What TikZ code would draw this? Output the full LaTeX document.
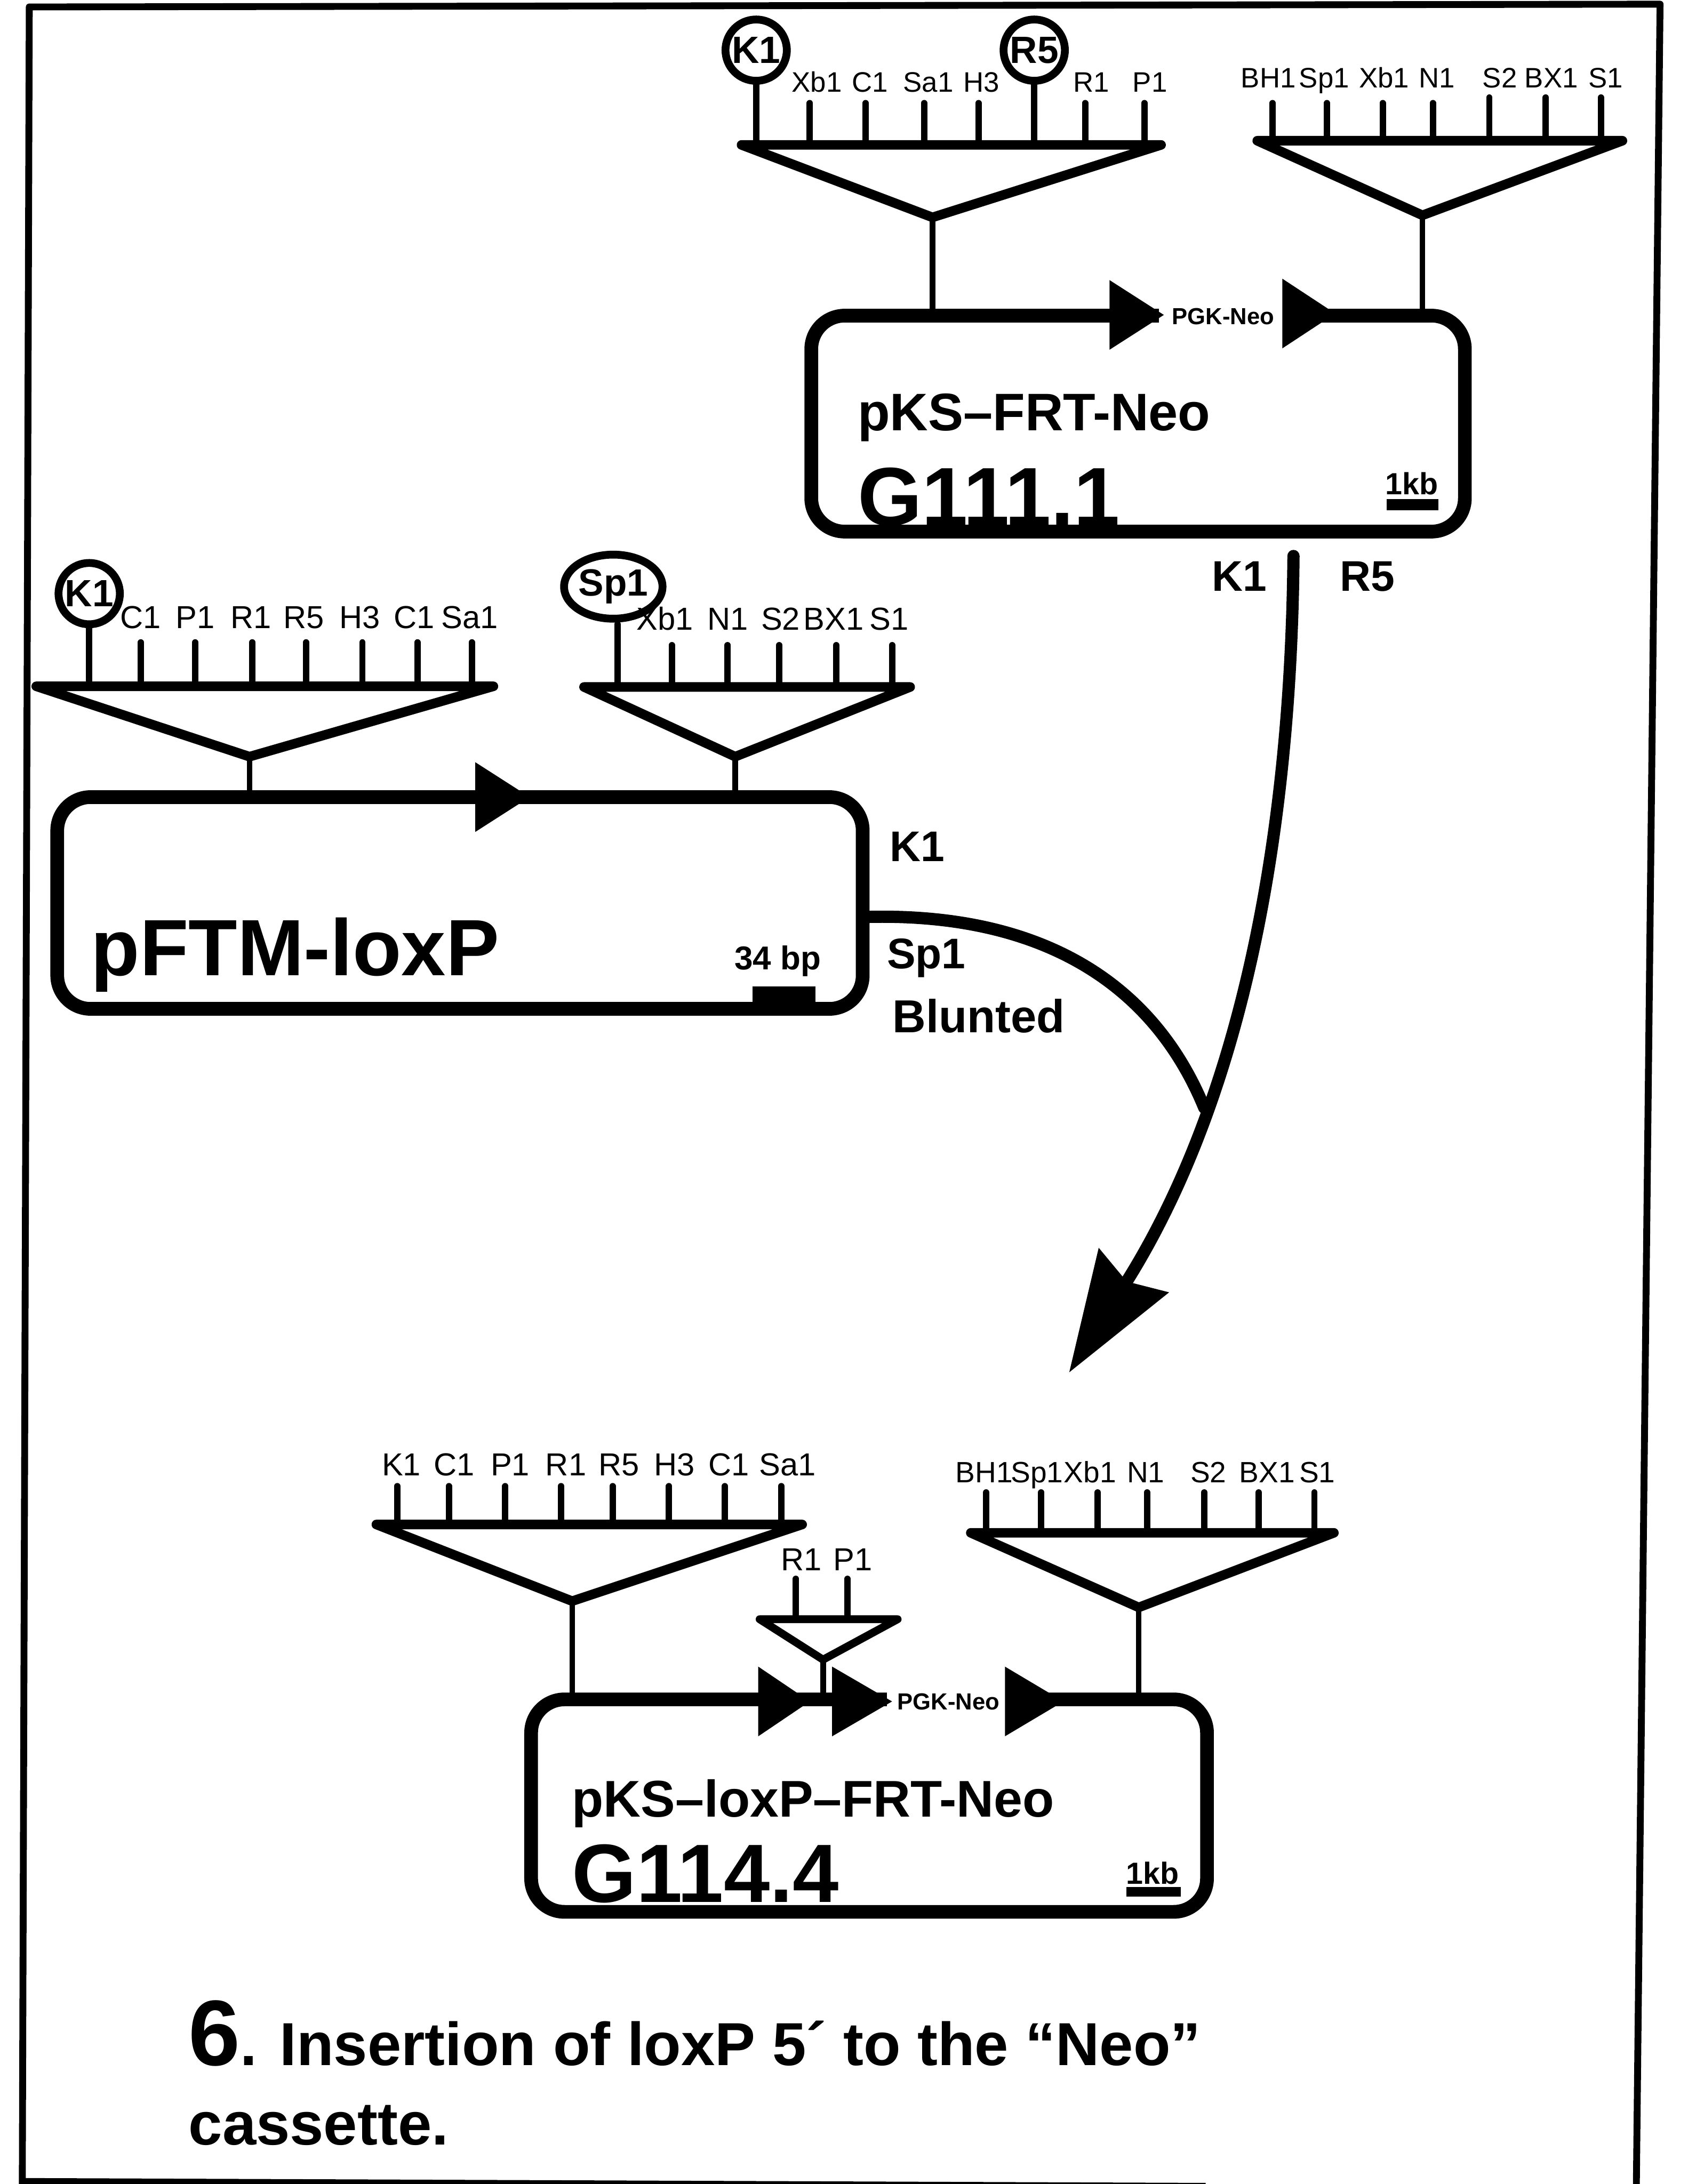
\documentclass[tikz,border=0pt]{standalone}
\usepackage{fontspec}
\setmainfont{Liberation Sans}
\usetikzlibrary{arrows.meta,shapes.geometric}

\tikzset{
  vecbox/.style={draw,rounded corners=0.48cm,line width=5.6pt,inner sep=0pt},
  insertv/.style={draw,line width=3.9pt},
  sitetick/.style={draw,line width=2.6pt},
  stemline/.style={draw,line width=2.3pt},
  siteplain/.style={anchor=base,inner sep=0pt,font=\fontsize{13}{13}\selectfont},
  sitethin/.style={anchor=base,inner sep=0pt,font=\fontsize{11.5}{12}\selectfont},
  sitering/.style={draw,circle,line width=3.2pt,inner sep=0pt,minimum size=0.88cm,
    font=\bfseries\fontsize{15.5}{16}\selectfont},
  enzlabel/.style={anchor=base west,inner sep=0pt,font=\bfseries\fontsize{17.5}{18}\selectfont},
  cassette/.style={fill=white,inner sep=0pt,minimum height=0.3cm,
    font=\bfseries\fontsize{9.5}{10}\selectfont},
  namebig/.style={anchor=base west,inner sep=0pt,font=\bfseries\fontsize{32.6}{33}\selectfont},
  nameid/.style={anchor=base west,inner sep=0pt,font=\bfseries\fontsize{33.8}{34}\selectfont},
  namemid/.style={anchor=base west,inner sep=0pt,font=\bfseries\fontsize{21.6}{22}\selectfont},
  scalelab/.style={anchor=base,inner sep=0pt,font=\bfseries\fontsize{12.5}{13}\selectfont},
  joinline/.style={draw,line width=5pt},
  captionline/.style={anchor=base west,inner sep=0pt,font=\bfseries\fontsize{24.8}{25}\selectfont},
}

\begin{document}
\begin{tikzpicture}[x=0.02cm,y=-0.02cm,line cap=round,line join=round]
    \useasboundingbox (0,0) rectangle (1211,1567.3);

    % Marco
    \draw[line width=2.8pt] (16,1567.3) -- (21,5) -- (1191,3) -- (1174,1567.3);
    \fill (15,1563) -- (500,1565) -- (865,1566.5) -- (865,1567.3) -- (15,1567.3) -- cycle;

    % Cajas de los tres vectores
    \node[vecbox,minimum width=9.38cm,minimum height=3.10cm] (pksbox) at (816.5,304) {};
    \node[vecbox,minimum width=11.56cm,minimum height=3.04cm] (ftmbox) at (330,648) {};
    \node[vecbox,minimum width=9.70cm,minimum height=3.05cm] (loxbox) at (623.5,1295.75) {};

    % Casete entre las flechas
    \node[cassette,minimum width=1.84cm] (pgkone) at (877.5,227) {PGK-Neo};
    \node[cassette,minimum width=1.76cm] (pgktwo) at (680.5,1221) {PGK-Neo};

    % Cabezas de flecha sobre las cajas
    \foreach \x/\w/\yc in {796/39/226,920/38/225,341/39/572,544/37/1221,597/43/1221,721/42/1221}
        \fill (\x,\yc-25) -- (\x+\w,\yc) -- (\x,\yc+25) -- cycle;

    % pKS-FRT-Neo: sitios superiores
    \draw[insertv] (532,104) -- (833,104) -- (669,156) -- cycle;
    \draw[insertv] (902,101) -- (1164,101) -- (1020.5,154.5) -- cycle;
    \coordinate (pksa) at (669,156);
    \coordinate (pksb) at (1020.5,154.5);
    \draw[stemline] (pksa) -- (pksa |- pksbox.north);
    \draw[stemline] (pksb) -- (pksb |- pksbox.north);
    \foreach \x in {581,621,663,702,778.5,821}
        \draw[sitetick] (\x,104) -- (\x,74);
    \foreach \x in {913,952,992,1028}
        \draw[sitetick] (\x,101) -- (\x,74);
    \foreach \x in {1068.5,1109,1148.5}
        \draw[sitetick] (\x,101) -- (\x,70);
    \node[sitering] (kpks) at (542.5,36) {K1};
    \node[sitering] (rpks) at (742,36) {R5};
    \draw[sitetick] (kpks.south) -- (kpks |- 0,104);
    \draw[sitetick] (rpks.south) -- (rpks |- 0,104);
    \foreach \x/\t [count=\i] in {586/Xb1,624/C1,666/Sa1,704/H3,783/R1,825/P1}
        \node[sitethin] (pksl\i) at (\x,66) {\t};
    \foreach \x/\t [count=\i] in {910/BH1,950/Sp1,993/Xb1,1031/N1,1076/S2,1113/BX1,1152/S1}
        \node[sitethin] (pksr\i) at (\x,63) {\t};

    \node[namemid] (pksname) at (615,309) {pKS–FRT-Neo};
    \node[nameid] (pksid) at (615,377) {G111.1};
    \node[scalelab] (pksscale) at (1013,355) {1kb};
    \fill (995,358) rectangle (1032,366);

    % pFTM-loxP
    \draw[insertv] (26,492.5) -- (354,492.5) -- (179,543) -- cycle;
    \draw[insertv] (419,493) -- (653,493) -- (527.5,543) -- cycle;
    \coordinate (ftma) at (179,543);
    \coordinate (ftmb) at (527.5,543);
    \draw[stemline] (ftma) -- (ftma |- ftmbox.north);
    \draw[stemline] (ftmb) -- (ftmb |- ftmbox.north);
    \foreach \x in {101,140,181,219.5,260,299.5,338.5}
        \draw[sitetick] (\x,492) -- (\x,461);
    \foreach \x in {482,522,559,600,640}
        \draw[sitetick] (\x,493) -- (\x,463);
    \node[sitering] (kftm) at (64,426) {K1};
    \node[draw,ellipse,line width=3.2pt,inner sep=0pt,minimum width=1.28cm,minimum height=0.92cm,
        font=\bfseries\fontsize{15.5}{16}\selectfont] (spftm) at (440,421) {Sp1};
    \draw[sitetick] (kftm.south) -- (kftm |- 0,492);
    \draw[sitetick] (443,448) -- (443,493);
    \foreach \x/\t [count=\i] in {101/C1,140/P1,180/R1,218/R5,258/H3,297/C1,337/Sa1}
        \node[siteplain] (ftml\i) at (\x,451) {\t};
    \foreach \x/\t [count=\i] in {477/Xb1,522/N1,560/S2,598/BX1,638/S1}
        \node[siteplain] (ftmr\i) at (\x,452) {\t};

    \node[namebig] (ftmname) at (65,700) {pFTM-loxP};
    \node[scalelab,font=\bfseries\fontsize{13.5}{14}\selectfont] (ftmscale) at (558,696) {34 bp};
    \fill (540,708) rectangle (585,724);
    \node[enzlabel] (kftmlab) at (638,618) {K1};
    \node[enzlabel] (spftmlab) at (636,695) {Sp1};
    \node[enzlabel,font=\bfseries\fontsize{18.9}{19}\selectfont] (bluntlab) at (640,741) {Blunted};

    % Flechas de union
    \coordinate (joinfrom) at (928,399);
    \coordinate (jointo) at (767,985);
    \coordinate (ftmout) at (622,658);
    \coordinate (joinmeet) at (864,795);
    \draw[joinline] (ftmout) .. controls (740,655) and (825,700) .. (joinmeet);
    \draw[joinline,-{Stealth[length=49pt,width=33pt,inset=5pt]}]
        (joinfrom) .. controls (926,620) and (884,800) .. (jointo);
    \node[enzlabel] (kjoin) at (869,424) {K1};
    \node[enzlabel] (rjoin) at (961,424) {R5};

    % pKS-loxP-FRT-Neo
    \draw[insertv] (270,1094) -- (575.5,1094) -- (410.5,1149) -- cycle;
    \draw[insertv] (696.5,1100) -- (957,1100) -- (817,1153.5) -- cycle;
    \draw[line width=3.2pt] (545,1162) -- (644,1162) -- (590.5,1191) -- cycle;
    \coordinate (loxa) at (410.5,1149);
    \coordinate (loxb) at (817,1153.5);
    \coordinate (loxc) at (590.5,1191);
    \draw[stemline] (loxa) -- (loxa |- loxbox.north);
    \draw[stemline] (loxb) -- (loxb |- loxbox.north);
    \draw[stemline] (loxc) -- (loxc |- loxbox.north);
    \foreach \x in {285,322,362.5,402.5,439.5,480,520,560.5}
        \draw[sitetick] (\x,1094) -- (\x,1066.5);
    \foreach \x in {707.5,747,787.5,823,864,903,943}
        \draw[sitetick] (\x,1100) -- (\x,1071);
    \foreach \x in {571,608}
        \draw[sitetick] (\x,1162) -- (\x,1133);
    \foreach \x/\t [count=\i] in {288/K1,326/C1,366/P1,406/R1,444/R5,484/H3,523/C1,565/Sa1}
        \node[siteplain] (loxl\i) at (\x,1059) {\t};
    \foreach \x/\t [count=\i] in {706/BH1,744/Sp1,782/Xb1,822/N1,867/S2,909/BX1,945/S1}
        \node[sitethin,font=\fontsize{12}{12}\selectfont] (loxr\i) at (\x,1064) {\t};
    \foreach \x/\t [count=\i] in {575/R1,612/P1}
        \node[siteplain] (loxm\i) at (\x,1127) {\t};

    \node[namemid,font=\bfseries\fontsize{21.1}{22}\selectfont] (loxname) at (410,1304) {pKS–loxP–FRT-Neo};
    \node[nameid] (loxid) at (410,1365) {G114.4};
    \node[scalelab] (loxscale) at (827,1352) {1kb};
    \fill (808,1354) rectangle (847,1361);

    % Titulo
    \node[captionline] (title) at (135,1482)
        {{\fontsize{38}{38}\selectfont 6}. Insertion of loxP 5´ to the “Neo”};
    \node[captionline] (titletwo) at (135,1539) {cassette.};
\end{tikzpicture}
\end{document}
